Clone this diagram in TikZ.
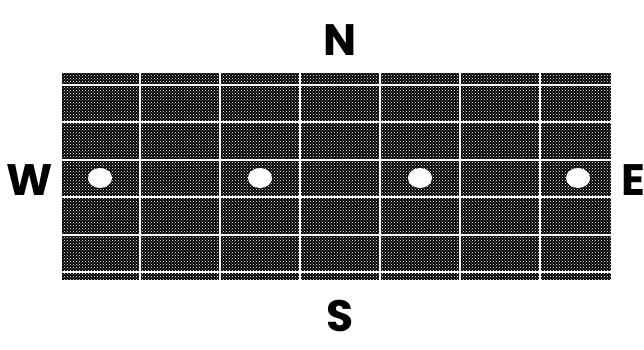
\documentclass[tikz,border=0pt]{standalone}
\usepackage{fontspec}
\setsansfont{Poppins}
\usetikzlibrary{patterns}

\begin{document}
\begin{tikzpicture}[x=1pt,y=-1pt]
  \tikzset{
    compass/.style={font=\sffamily\bfseries\fontsize{44}{44}\selectfont},
    hole/.style={fill=white},
    gridline/.style={white,line width=2.5pt},
  }
  \useasboundingbox (0,0) rectangle (644,350);

  % the dark panel
  \fill[black] (62,73) rectangle (611,280);
  \fill[pattern=crosshatch dots,pattern color=white] (62,73) rectangle (611,280);

  % white grid lines
  \foreach \x in {140,220,300,380,460,540}
    \draw[gridline] (\x,73) -- (\x,280);
  \foreach \y in {85,122,160,197,235,272}
    \draw[gridline] (62,\y) -- (611,\y);

  % holes
  \foreach \x in {100,260,420,578}
    \fill[hole] (\x,178) ellipse (12 and 10);

  % compass letters
  \node[compass] (north) at (340,40) {N};
  \node[compass] (west) at (30,180) {W};
  \node[compass] (east) at (633,180) {E};
  \node[compass] (south) at (340,316) {S};
\end{tikzpicture}
\end{document}
